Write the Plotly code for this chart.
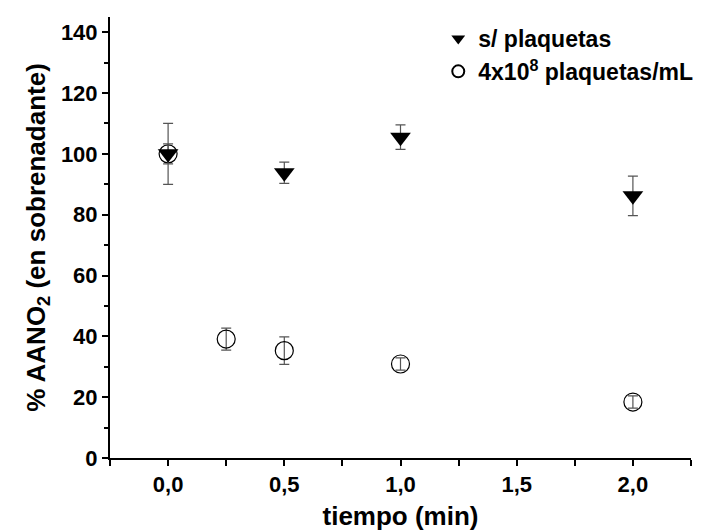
import plotly.graph_objects as go

x_sin = [0.0, 0.5, 1.0, 2.0]
y_sin = [100.0, 93.8, 105.5, 86.2]
err_sin = [3.3, 3.5, 4.0, 6.5]

x_con = [0.0, 0.25, 0.5, 1.0, 2.0]
y_con = [100.0, 39.1, 35.3, 30.9, 18.4]
err_con = [10.0, 3.6, 4.5, 2.0, 2.0]

name_sin = "s/ plaquetas"
name_con = "4x10<sup>8</sup> plaquetas/mL"

font_fam = "Liberation Sans, Arial, sans-serif"

fig = go.Figure()
fig.add_trace(go.Scatter(
    x=x_con, y=y_con, mode="markers", name=name_con, legendrank=2,
    marker=dict(symbol="circle-open", size=18, color="black", line=dict(width=1.2, color="black")),
    error_y=dict(type="data", array=err_con, visible=True, color="#555555", thickness=1.2, width=5),
))
fig.add_trace(go.Scatter(
    x=x_sin, y=y_sin, mode="markers", name=name_sin, legendrank=1,
    marker=dict(symbol="triangle-down", size=18, color="black", line=dict(width=0)),
    error_y=dict(type="data", array=err_sin, visible=True, color="#555555", thickness=1.2, width=5),
))

fig.update_layout(
    width=714, height=531,
    margin=dict(l=110, r=23, t=17, b=73),
    paper_bgcolor="white", plot_bgcolor="white",
    separators=",.",
    font=dict(family=font_fam, size=22, color="black"),
    legend=dict(x=0.565, y=1.0, xanchor="left", yanchor="top", bgcolor="rgba(0,0,0,0)",
                font=dict(family=font_fam, size=23, color="black", weight="bold"),
                itemsizing="constant", tracegroupgap=0),
    showlegend=True,
)
fig.update_xaxes(
    range=[-0.25, 2.25], dtick=0.5, tick0=0, tickformat=".1f", automargin=False,
    showline=True, linewidth=2, linecolor="black", showgrid=False, zeroline=False,
    ticks="outside", ticklen=6, tickwidth=2, tickcolor="black",
    minor=dict(dtick=0.25, tick0=0, ticks="outside", ticklen=6, tickwidth=2, tickcolor="black", showgrid=False),
    tickfont=dict(family=font_fam, size=22, color="black", weight="bold"),
    title=dict(text="tiempo (min)", font=dict(family=font_fam, size=26, color="black", weight="bold"), standoff=10),
)
fig.update_yaxes(
    range=[0, 145], dtick=20, tick0=0, automargin=False,
    showline=True, linewidth=2, linecolor="black", showgrid=False, zeroline=False,
    ticks="outside", ticklen=6, tickwidth=2, tickcolor="black",
    minor=dict(dtick=10, tick0=0, ticks="outside", ticklen=4, tickwidth=2, tickcolor="black", showgrid=False),
    tickfont=dict(family=font_fam, size=22, color="black", weight="bold"),
    title=dict(text="% AANO<sub>2</sub> (en sobrenadante)", font=dict(family=font_fam, size=26, color="black", weight="bold"), standoff=8),
)

fig.write_html("out.html")
